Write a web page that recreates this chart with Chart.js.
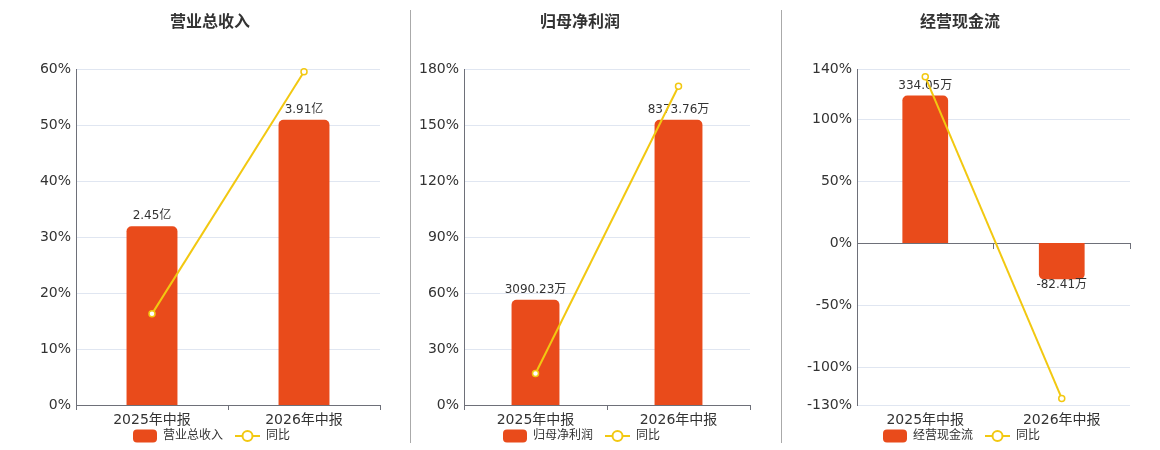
<!DOCTYPE html>
<html lang="zh">
  <head>
    <meta charset="UTF-8" />
    <title>业绩对比</title>
    <script src="https://cdn.jsdelivr.net/npm/chart.js"></script>
    <style>
      body { margin: 0; background: #fff; }
      #wrap { position: relative; width: 1160px; height: 450px; overflow: hidden; }
      canvas { position: absolute; top: 0; }
      .sep { position: absolute; top: 10px; width: 1px; height: 433px; background: #aaa; }
    </style>
  </head>
  <body>
    <div id="wrap">
      <canvas id="c1" width="420" height="450" style="left:0px"></canvas>
      <canvas id="c2" width="360" height="450" style="left:400px"></canvas>
      <canvas id="c3" width="400" height="450" style="left:760px"></canvas>
      <div class="sep" style="left:410px"></div>
      <div class="sep" style="left:781px"></div>
    </div>

    <script>
      // data
      const categories = ["2025年中报", "2026年中报"];

      const revenue = [2.45, 3.91];          // 亿
      const revenueYoY = [16.3, 59.6];       // %
      const profit = [3090.23, 8373.76];     // 万
      const profitYoY = [16.9, 171.0];
      const cashflow = [334.05, -82.41];     // 万
      const cashflowYoY = [134.1, -124.67];

      const ticks1 = [0, 10, 20, 30, 40, 50, 60];
      const ticks2 = [0, 30, 60, 90, 120, 150, 180];
      const ticks3 = [-130, -100, -50, 0, 50, 100, 140];

      // range of the hidden axis the bars sit on
      const barRange1 = [0, 4.6];
      const barRange2 = [0, 9850];
      const barRange3 = [-367, 393];

      const BAR = "#E94B1B";
      const LINE = "#F2C811";
      const AXIS = "#6E7079";
      const GRID = "#E0E6F1";
      const TEXT = "#333";

      Chart.defaults.font.family = "'DejaVu Sans', 'Noto Sans CJK SC', sans-serif";
      Chart.defaults.color = TEXT;

      // legend icons
      function barIcon() {
        const c = document.createElement("canvas");
        c.width = 27; c.height = 14;
        const g = c.getContext("2d");
        g.fillStyle = BAR;
        g.beginPath();
        g.roundRect(3, 0.5, 24, 13, 4);
        g.fill();
        return c;
      }
      function lineIcon() {
        const c = document.createElement("canvas");
        c.width = 27; c.height = 14;
        const g = c.getContext("2d");
        g.strokeStyle = LINE;
        g.lineWidth = 2;
        g.beginPath();
        g.moveTo(2, 7); g.lineTo(27, 7);
        g.stroke();
        g.beginPath();
        g.arc(14.5, 7, 5, 0, Math.PI * 2);
        g.fillStyle = "#fff";
        g.fill();
        g.stroke();
        return c;
      }
      const icons = [barIcon(), lineIcon()];

      // value labels over the bars, drawn before the line
      const barLabels = {
        id: "barLabels",
        afterDatasetDraw(chart, args, opts) {
          if (args.index !== 0) return;
          const ctx = chart.ctx;
          const ds = chart.data.datasets[0];
          ctx.save();
          ctx.font = "12px 'DejaVu Sans', 'Noto Sans CJK SC', sans-serif";
          ctx.fillStyle = TEXT;
          ctx.textAlign = "center";
          ctx.textBaseline = "middle";
          args.meta.data.forEach((el, i) => {
            const v = ds.data[i];
            const y = v >= 0 ? el.y - 10 : el.y + 6;
            ctx.fillText(v.toFixed(2) + opts.unit, el.x, y);
          });
          ctx.restore();
        },
      };

      // the x labels hang into the legend strip; give them room so they are not clipped
      const labelRoom = {
        id: "labelRoom",
        afterLayout(chart) {
          const x = chart.scales.x;
          x.height = 28;
          x.bottom = x.top + 28;
        },
      };

      function makeChart(id, o) {
        const zeroAxis = o.zeroLine;
        const scales = {
          x: {
            type: "category",
            offset: true,
            border: { display: !zeroAxis, color: AXIS, width: 1 },
            grid: {
              display: !zeroAxis,
              offset: true,
              drawOnChartArea: false,
              drawTicks: true,
              tickLength: 5,
              color: AXIS,
            },
            ticks: { font: { size: 14 }, color: TEXT, padding: 2 },
            afterFit: (s) => { s.height = 15; },
          },
          y: {
            position: "left",
            min: o.ticks[0],
            max: o.ticks[o.ticks.length - 1],
            border: { display: true, color: AXIS, width: 1 },
            grid: {
              drawTicks: false,
              color: (c) => (zeroAxis && c.tick && c.tick.value === 0 ? AXIS : GRID),
            },
            ticks: {
              font: { size: 14 },
              color: TEXT,
              padding: 5,
              callback: (v) => v + "%",
            },
            afterBuildTicks: (s) => { s.ticks = o.ticks.map((v) => ({ value: v })); },
            afterFit: (s) => { s.width = o.left; },
          },
          y1: {
            position: "right",
            min: o.barRange[0],
            max: o.barRange[1],
            border: { display: false },
            grid: { display: false },
            ticks: { display: false },
            afterFit: (s) => { s.width = o.right; },
          },
        };
        if (zeroAxis) {
          scales.x0 = {
            type: "category",
            position: { y: 0 },
            offset: true,
            border: { display: true, color: AXIS, width: 1 },
            grid: {
              offset: true,
              drawOnChartArea: false,
              drawTicks: true,
              tickLength: 5,
              color: AXIS,
            },
            ticks: { display: false },
          };
        }

        return new Chart(document.getElementById(id), {
          type: "bar",
          data: {
            labels: categories,
            datasets: [
              {
                type: "bar",
                label: o.name,
                data: o.bars,
                yAxisID: "y1",
                backgroundColor: BAR,
                borderRadius: 5,
                borderSkipped: "start",
                barPercentage: 0.335,
                categoryPercentage: 1,
                order: 1,
              },
              {
                type: "line",
                label: "同比",
                data: o.yoy,
                yAxisID: "y",
                borderColor: LINE,
                borderWidth: 2,
                pointRadius: 3,
                pointBorderWidth: 1.5,
                pointBackgroundColor: "#fff",
                pointBorderColor: LINE,
                tension: 0,
                clip: false,
                order: 0,
              },
            ],
          },
          options: {
            responsive: false,
            animation: false,
            layout: { padding: { left: 0, right: 0, top: 0, bottom: -2 } },
            scales: scales,
            plugins: {
              title: {
                display: true,
                text: o.name,
                color: TEXT,
                font: { size: 16, weight: "bold" },
                padding: { top: 13.5, bottom: 36.8 },
              },
              legend: {
                position: "bottom",
                onClick: null,
                labels: {
                  usePointStyle: true,
                  pointStyleWidth: 27,
                  padding: 10,
                  font: { size: 12 },
                  color: TEXT,
                  generateLabels: (chart) =>
                    chart.data.datasets.map((ds, i) => ({
                      text: ds.label,
                      pointStyle: icons[i],
                      fillStyle: i === 0 ? BAR : LINE,
                      strokeStyle: i === 0 ? BAR : LINE,
                      lineWidth: 0,
                      fontColor: TEXT,
                      hidden: false,
                      datasetIndex: i,
                    })),
                },
              },
              tooltip: { enabled: false },
              barLabels: { unit: o.unit },
            },
          },
          plugins: [barLabels, labelRoom],
        });
      }

      makeChart("c1", {
        name: "营业总收入", unit: "亿", bars: revenue, yoy: revenueYoY,
        ticks: ticks1, barRange: barRange1, left: 76, right: 40,
      });
      makeChart("c2", {
        name: "归母净利润", unit: "万", bars: profit, yoy: profitYoY,
        ticks: ticks2, barRange: barRange2, left: 64, right: 10,
      });
      makeChart("c3", {
        name: "经营现金流", unit: "万", bars: cashflow, yoy: cashflowYoY,
        ticks: ticks3, barRange: barRange3, left: 97, right: 30, zeroLine: true,
      });
    </script>
  </body>
</html>
